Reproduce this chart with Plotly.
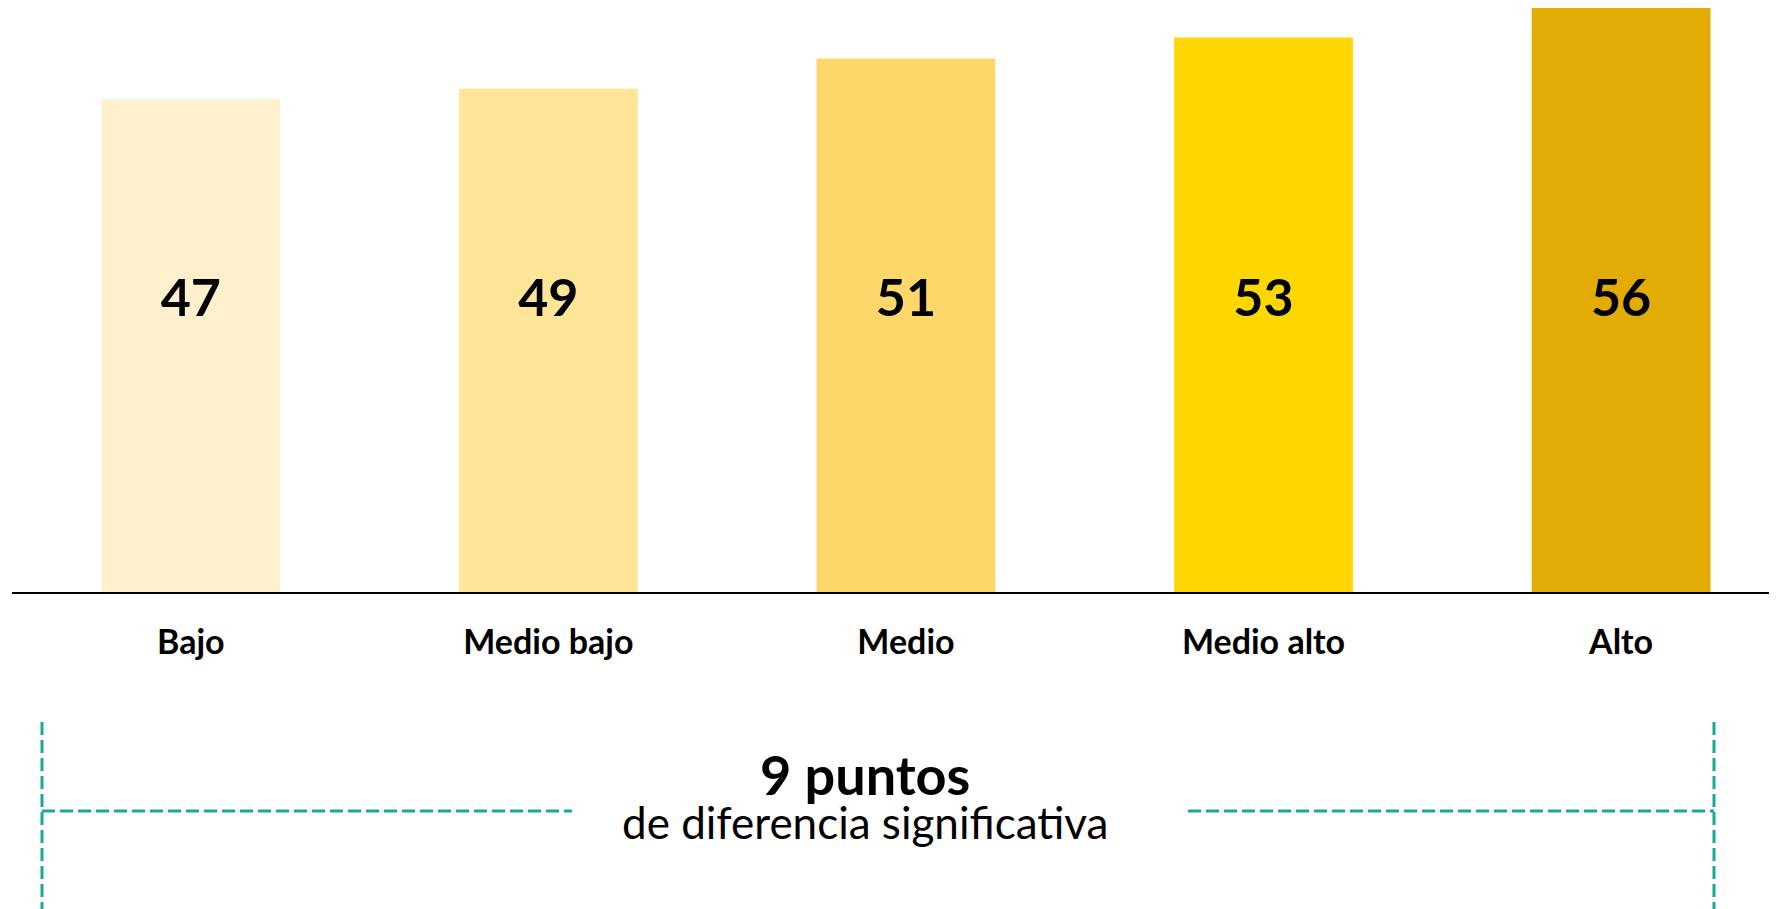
import plotly.graph_objects as go

# data
categories = ["Bajo", "Medio bajo", "Medio", "Medio alto", "Alto"]
values = [47.1, 48.1, 51.0, 53.0, 56.0]
value_labels = ["47", "49", "51", "53", "56"]
bar_colors = ["#FEF0CC", "#FEE598", "#FDD76A", "#FED700", "#E3AC04"]

# the page body has an 8px margin, so the figure is shrunk by that much
OFF = 8
W, H = 1777 - OFF, 909 - OFF
PLOT_L, PLOT_R, PLOT_T, PLOT_B = 12 - OFF, 1777 - OFF, 0, 592 - OFF
PX_PER_UNIT = 10.46
FONT = "Lato"
TEAL = "#17A99E"
LABEL_LEVEL = 27.6  # height (in data units) where the value labels sit


def px_x(p):
    # page pixel -> paper x
    return (p - OFF - PLOT_L) / (PLOT_R - PLOT_L)


def px_y(p):
    # page pixel -> paper y
    return (PLOT_B - (p - OFF)) / (PLOT_B - PLOT_T)


fig = go.Figure()

fig.add_trace(go.Bar(
    x=categories, y=values,
    marker=dict(color=bar_colors, line=dict(width=0)),
    hoverinfo="skip", showlegend=False,
))

fig.add_trace(go.Scatter(
    x=categories, y=[LABEL_LEVEL] * len(categories),
    mode="text", text=value_labels,
    textfont=dict(family=FONT, size=52, color="black", weight="bold"),
    hoverinfo="skip", showlegend=False,
))

# dashed bracket under the chart
dash = dict(color=TEAL, width=3, dash="13px,5px")
for x0, y0, x1, y1 in [(42, 722, 42, 915), (1714, 722, 1714, 915),
                       (42, 811, 572, 811), (1188, 811, 1714, 811)]:
    fig.add_shape(type="line", xref="paper", yref="paper",
                  x0=px_x(x0), y0=px_y(y0), x1=px_x(x1), y1=px_y(y1),
                  line=dash)

# both lines in one text block so the lines sit tight like the original
fig.add_annotation(
    text="<span style='font-size:54px'><b>9 puntos</b></span><br>"
         "<span style='font-size:44px'>de diferencia significativa</span>",
    xref="paper", yref="paper", x=px_x(865), y=px_y(850),
    showarrow=False, align="center",
    font=dict(family=FONT, size=34, color="black"),
)

fig.update_layout(
    width=W, height=H,
    margin=dict(l=PLOT_L, r=W - PLOT_R, t=PLOT_T, b=H - PLOT_B),
    plot_bgcolor="white", paper_bgcolor="white",
    bargap=0.5,
)
fig.update_xaxes(
    range=[-0.5, 4.436],
    showline=True, linecolor="black", linewidth=1.5,
    showgrid=False, ticks="", ticklabelstandoff=19,
    tickfont=dict(family=FONT, size=34, color="black", weight="bold"),
)
fig.update_yaxes(range=[0, (PLOT_B - PLOT_T) / PX_PER_UNIT], visible=False, showgrid=False)

fig.write_html("out.html")
